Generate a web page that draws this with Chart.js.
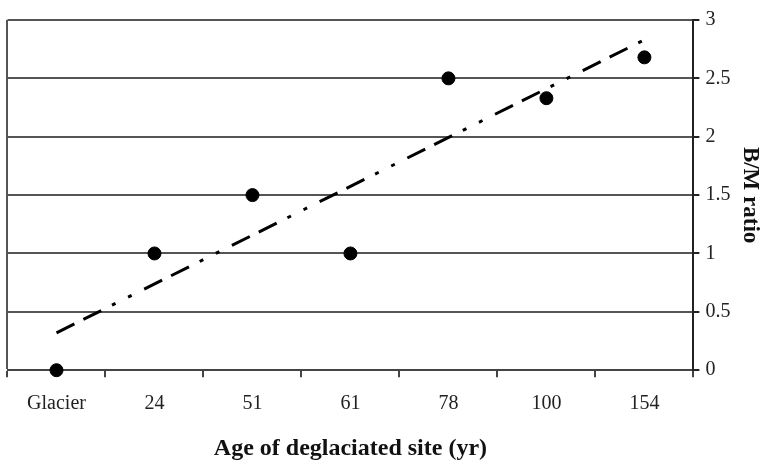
<!DOCTYPE html>
<html>
<head>
<meta charset="utf-8">
<script src="https://cdn.jsdelivr.net/npm/chart.js@4/dist/chart.umd.min.js"></script>
<style>
  html, body { margin: 0; padding: 0; background: #fff; }
  #wrap { width: 780px; height: 466px; }
</style>
</head>
<body>
<div id="wrap"><canvas id="chart"></canvas></div>
<script>
const sites = ["Glacier", "24", "51", "61", "78", "100", "154"];
const bmRatio = [0, 1, 1.5, 1, 2.5, 2.33, 2.68];
// trend line end points
const trend = [0.32, null, null, null, null, null, 2.83];
const yTicks = [0, 0.5, 1, 1.5, 2, 2.5, 3];

const serif = "'Liberation Serif', 'Times New Roman', serif";

new Chart(document.getElementById("chart"), {
  type: "line",
  data: {
    labels: sites,
    datasets: [
      {
        label: "Trend",
        data: trend,
        spanGaps: true,
        borderColor: "#000",
        borderWidth: 3,
        borderDash: [20, 10, 20, 12, 4, 14, 4, 14],
        pointRadius: 0,
        fill: false
      },
      {
        label: "B/M ratio",
        data: bmRatio,
        showLine: false,
        clip: false,
        pointRadius: 6.5,
        pointBackgroundColor: "#000",
        pointBorderColor: "#000"
      }
    ]
  },
  options: {
    responsive: true,
    maintainAspectRatio: false,
    animation: false,
    layout: { padding: { left: 7, top: 20, right: 2, bottom: 3 } },
    plugins: { legend: { display: false }, tooltip: { enabled: false } },
    scales: {
      x: {
        offset: true,
        grid: {
          offset: true,
          drawOnChartArea: true,
          color: ctx => ctx.index === 0 ? "#555" : "rgba(0,0,0,0)",
          lineWidth: 2,
          drawTicks: true,
          tickLength: 7,
          tickColor: "#444",
          tickWidth: 2
        },
        border: { display: true, color: "#444", width: 2 },
        ticks: {
          color: "#222",
          font: { family: serif, size: 20 },
          padding: 15,
          maxRotation: 0
        },
        title: {
          display: true,
          text: "Age of deglaciated site (yr)",
          color: "#111",
          font: { family: serif, size: 24, weight: "bold" },
          padding: { top: 3, bottom: 0 }
        }
      },
      y: {
        position: "right",
        min: 0,
        max: 3,
        afterBuildTicks: axis => { axis.ticks = yTicks.map(v => ({ value: v })); },
        grid: {
          color: "#555",
          lineWidth: 2,
          drawTicks: true,
          tickLength: 6,
          tickColor: "#222",
          tickWidth: 2
        },
        border: { display: true, color: "#222", width: 2 },
        ticks: {
          color: "#222",
          font: { family: serif, size: 20 },
          padding: 6,
          callback: v => String(v)
        },
        title: {
          display: true,
          text: "B/M ratio",
          color: "#111",
          font: { family: serif, size: 23, weight: "bold" },
          padding: { top: 14, bottom: 0 }
        }
      }
    }
  }
});
</script>
</body>
</html>
